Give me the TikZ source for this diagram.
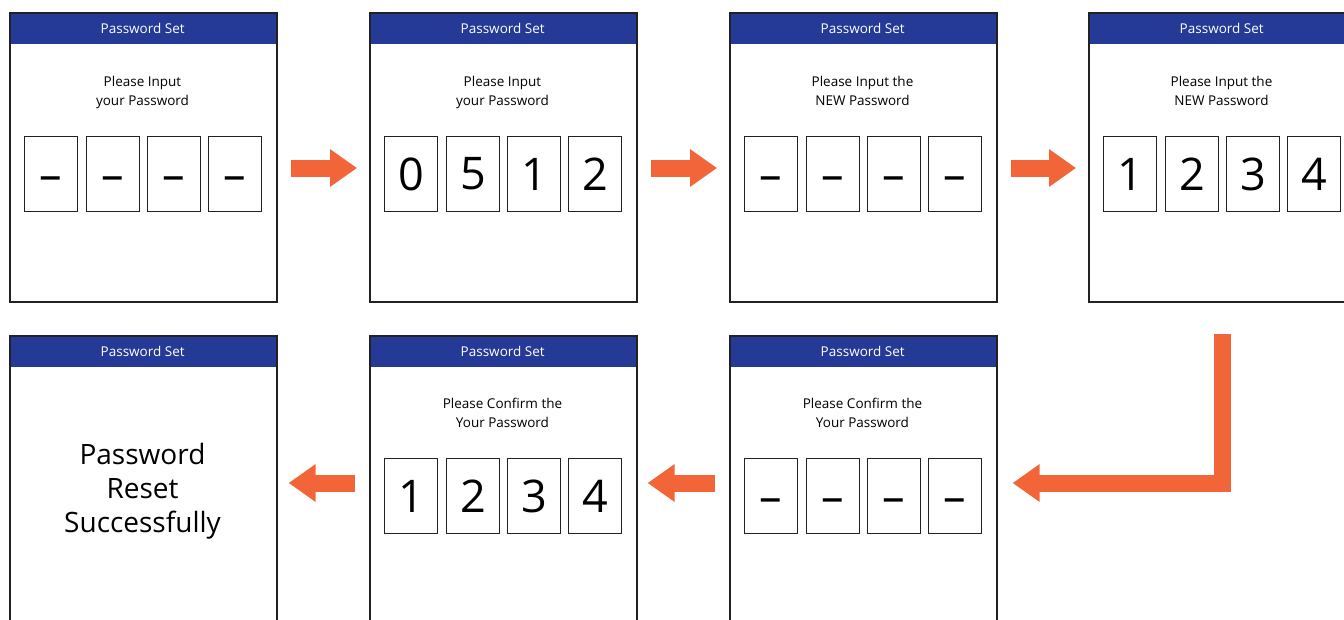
\documentclass[tikz,border=0pt]{standalone}
\usepackage{fontspec}
\setmainfont{Open Sans}
\usetikzlibrary{calc,arrows.meta}
\definecolor{hdr}{HTML}{243A96}
\definecolor{arr}{HTML}{F26539}
\definecolor{frame}{HTML}{222222}
\begin{document}
\begin{tikzpicture}[x=1pt,y=-1pt,
  screen/.style={draw=frame, line width=1.6pt, minimum width=267pt, minimum height=289pt, anchor=north west, inner sep=0pt},
  hdrbox/.style={fill=hdr, minimum width=267pt, minimum height=32pt, anchor=north west, inner sep=0pt, text=white, font=\fontsize{13.5}{16}\selectfont},
  digit/.style={draw=frame, line width=1.3pt, minimum width=53pt, minimum height=75pt, anchor=north west, inner sep=0pt, font=\fontsize{45}{50}\selectfont},
  prompt/.style={align=center, inner sep=0pt, font=\fontsize{13.5}{19}\selectfont},
  blk/.style={draw=arr, line width=17pt, line join=miter, -{Triangle[length=27pt,width=36pt]}},
]
\useasboundingbox (0,0) rectangle (1344,619);
\clip (0,0) rectangle (1344,619);

% top row
\foreach \n/\x in {1/9,2/369,3/729,4/1088}{
  \node[hdrbox] (h\n) at (\x,12) {Password Set};
  \node[screen] (s\n) at (\x,12) {};
}
\foreach \n/\x in {5/9,6/369,7/729}{
  \node[hdrbox] (h\n) at (\x,335) {Password Set};
  \node[screen] (s\n) at (\x,335) {};
}

% prompts
\node[prompt] (p1) at ($(s1.north west)+(133.5,80)$) {Please Input\\your Password};
\node[prompt] (p2) at ($(s2.north west)+(133.5,80)$) {Please Input\\your Password};
\node[prompt] (p3) at ($(s3.north west)+(133.5,79)$) {Please Input the\\NEW Password};
\node[prompt] (p4) at ($(s4.north west)+(133.5,79)$) {Please Input the\\NEW Password};
\node[prompt] (p6) at ($(s6.north west)+(133.5,78)$) {Please Confirm the\\Your Password};
\node[prompt] (p7) at ($(s7.north west)+(133.5,78)$) {Please Confirm the\\Your Password};

\node[align=center, inner sep=0pt, font=\fontsize{28}{34}\selectfont] (msg) at ($(s5.north west)+(133.5,156)$) {Password\\Reset\\Successfully};

% digit boxes
\foreach \s/\ya/\da/\db/\dc/\dd in {1/124/\vphantom{0}–/\vphantom{0}–/\vphantom{0}–/\vphantom{0}–,
                                 2/124/0/5/1/2,
                                 3/124/\vphantom{0}–/\vphantom{0}–/\vphantom{0}–/\vphantom{0}–,
                                 4/124/1/2/3/4,
                                 6/123/1/2/3/4,
                                 7/123/\vphantom{0}–/\vphantom{0}–/\vphantom{0}–/\vphantom{0}–}{
  \node[digit] (d\s a) at ($(s\s.north west)+(15,\ya)$) {\da};
  \node[digit] (d\s b) at ($(s\s.north west)+(77,\ya)$) {\db};
  \node[digit] (d\s c) at ($(s\s.north west)+(138,\ya)$) {\dc};
  \node[digit] (d\s d) at ($(s\s.north west)+(199,\ya)$) {\dd};
}

% arrows
\draw[blk] ($(s1.north east)+(13,156)$) -- ($(s2.north west)+(-12,156)$);
\draw[blk] ($(s2.north east)+(13,156)$) -- ($(s3.north west)+(-12,156)$);
\draw[blk] ($(s3.north east)+(13,156)$) -- ($(s4.north west)+(-12,156)$);
\coordinate (bendtop) at ($(s4.south)+(0,31)$);
\coordinate (bendtip) at ($(s7.north east)+(15,148)$);
\draw[blk] (bendtop) -- (bendtop |- bendtip) -- (bendtip);
\draw[blk] ($(s7.north west)+(-14,148)$) -- ($(s6.north east)+(10,148)$);
\draw[blk] ($(s6.north west)+(-14,148)$) -- ($(s5.north east)+(11,148)$);
\end{tikzpicture}
\end{document}
